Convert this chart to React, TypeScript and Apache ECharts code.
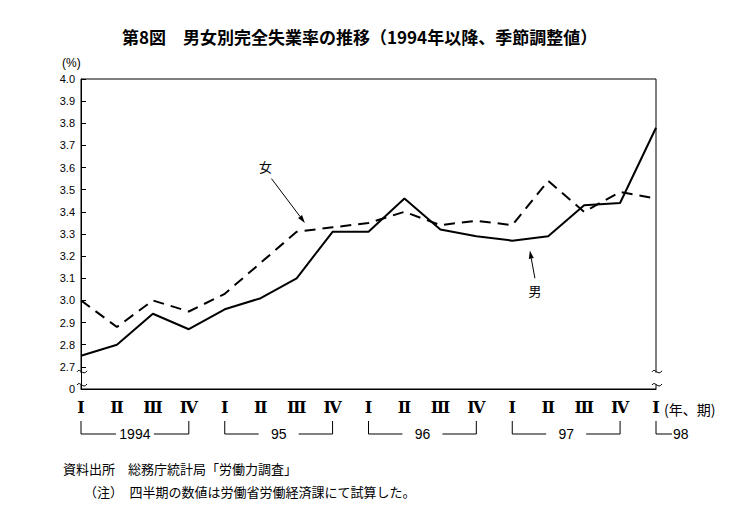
import React, { useEffect, useRef } from "react";
import * as echarts from "echarts";

const quarters = ["Ⅰ", "Ⅱ", "Ⅲ", "Ⅳ", "Ⅰ", "Ⅱ", "Ⅲ", "Ⅳ", "Ⅰ", "Ⅱ", "Ⅲ", "Ⅳ", "Ⅰ", "Ⅱ", "Ⅲ", "Ⅳ", "Ⅰ"];
const yearLabels = ["1994", "95", "96", "97", "98"];
const yearFrom = [0, 4, 8, 12, 16];
const yearTo = [3, 7, 11, 15, 16];
const male = [2.75, 2.8, 2.94, 2.87, 2.96, 3.01, 3.1, 3.31, 3.31, 3.46, 3.32, 3.29, 3.27, 3.29, 3.43, 3.44, 3.78];
const female = [3.0, 2.88, 3.0, 2.95, 3.03, 3.17, 3.31, 3.33, 3.35, 3.4, 3.34, 3.36, 3.34, 3.54, 3.4, 3.49, 3.46];
const yMin = 2.6;
const yMax = 4.0;
const yStep = 0.1;

const TITLE = "第8図　男女別完全失業率の推移（1994年以降、季節調整値）";
const NOTE1 = "資料出所　総務庁統計局「労働力調査」";
const NOTE2 = "（注）　四半期の数値は労働省労働経済課にて試算した。";
const JP = "'Noto Sans CJK JP', sans-serif";

export default function App() {
  const ref = useRef<HTMLDivElement>(null);
  useEffect(() => {
    if (!ref.current) return;
    const chart = echarts.init(ref.current, null, { renderer: "svg" });
    chart.setOption({
      animation: false,
      backgroundColor: "#fff",
      grid: { left: 81, right: 90, top: 79, bottom: 143, show: true, borderColor: "#000", borderWidth: 1 },
      xAxis: {
        type: "category",
        data: quarters,
        boundaryGap: false,
        axisLine: { show: true, lineStyle: { color: "#000", width: 1 } },
        axisTick: { show: false },
        axisLabel: { interval: 0, color: "#000", fontSize: 16, fontWeight: "bold", fontFamily: "'DejaVu Serif', serif", margin: 10 },
        splitLine: { show: false },
      },
      yAxis: {
        type: "value",
        min: yMin,
        max: yMax,
        interval: yStep,
        axisLine: { show: true, lineStyle: { color: "#000", width: 1 } },
        axisTick: { show: true, inside: true, length: 5, lineStyle: { color: "#000" } },
        axisLabel: {
          color: "#000",
          fontSize: 11,
          fontFamily: "'Liberation Sans', sans-serif",
          margin: 6,
          formatter: (v: number) => (Math.abs(v - yMin) < 1e-6 ? "0" : v.toFixed(1)),
        },
        splitLine: { show: false },
      },
      series: [
        { name: "男", type: "line", data: male, symbol: "none", lineStyle: { color: "#000", width: 2 } },
        { name: "女", type: "line", data: female, symbol: "none", lineStyle: { color: "#000", width: 2, type: [11, 7] } },
      ],
    });

    const px = (i: number, v: number) => {
      const a = chart.convertToPixel({ gridIndex: 0 }, [0, v]) as number[];
      const b = chart.convertToPixel({ gridIndex: 0 }, [quarters.length - 1, v]) as number[];
      return [a[0] + ((b[0] - a[0]) * i) / (quarters.length - 1), a[1]];
    };

    const els: any[] = [];
    const lineStyle = { stroke: "#000", lineWidth: 1 };
    els.push({ type: "text", left: 122, top: 28, style: { text: TITLE, font: `bold 17px ${JP}`, fill: "#000" } });
    els.push({ type: "text", left: 62, top: 57, style: { text: "(%)", font: "12px 'Liberation Sans', sans-serif", fill: "#000" } });
    els.push({ type: "text", left: 63, top: 462, style: { text: NOTE1, font: `13px ${JP}`, fill: "#000" } });
    els.push({ type: "text", left: 84, top: 485, style: { text: NOTE2, font: `13px ${JP}`, fill: "#000" } });

    const base = px(quarters.length - 1, yMin);
    els.push({ type: "text", x: base[0] + 8, y: base[1] + 20, style: { text: "(年、期)", font: `14px ${JP}`, fill: "#000", textVerticalAlign: "middle" } });

    const yTop = base[1] + 32;
    const yMid = base[1] + 45;
    for (let k = 0; k < yearLabels.length; k++) {
      const xl = px(yearFrom[k], yMin)[0];
      const xr = px(yearTo[k], yMin)[0];
      const font = "14px 'Liberation Sans', sans-serif";
      if (yearFrom[k] === yearTo[k]) {
        els.push({ type: "line", shape: { x1: xl, y1: yTop, x2: xl, y2: yMid }, style: lineStyle });
        els.push({ type: "line", shape: { x1: xl, y1: yMid, x2: xl + 16, y2: yMid }, style: lineStyle });
        els.push({ type: "text", x: xl + 17, y: yMid, style: { text: yearLabels[k], font, fill: "#000", textVerticalAlign: "middle" } });
      } else {
        const cx = (xl + xr) / 2;
        const half = yearLabels[k].length * 4 + (yearLabels[k].length === 4 ? 3 : 12);
        els.push({ type: "line", shape: { x1: xl, y1: yTop, x2: xl, y2: yMid }, style: lineStyle });
        els.push({ type: "line", shape: { x1: xr, y1: yTop, x2: xr, y2: yMid }, style: lineStyle });
        els.push({ type: "line", shape: { x1: xl, y1: yMid, x2: cx - half, y2: yMid }, style: lineStyle });
        els.push({ type: "line", shape: { x1: cx + half, y1: yMid, x2: xr, y2: yMid }, style: lineStyle });
        els.push({ type: "text", x: cx, y: yMid, style: { text: yearLabels[k], font, fill: "#000", textAlign: "center", textVerticalAlign: "middle" } });
      }
    }

    const yb1 = px(0, 2.7)[1] + 5;
    const yb2 = px(0, yMin)[1] - 4;
    for (const xa of [px(0, yMin)[0], px(quarters.length - 1, yMin)[0]]) {
      els.push({ type: "rect", shape: { x: xa - 2, y: yb1 + 1, width: 4, height: yb2 - yb1 - 2 }, style: { fill: "#fff" } });
      for (const yy of [yb1, yb2]) {
        els.push({
          type: "bezierCurve",
          shape: { x1: xa - 4, y1: yy, cpx1: xa - 1, cpy1: yy - 5, cpx2: xa + 2, cpy2: yy + 5, x2: xa + 6, y2: yy - 1 },
          style: { stroke: "#000", lineWidth: 1, fill: "none" },
        });
      }
    }

    const arrow = (from: number[], to: number[]) => {
      const p0 = px(from[0], from[1]);
      const p1 = px(to[0], to[1]);
      const dx = p1[0] - p0[0];
      const dy = p1[1] - p0[1];
      const len = Math.sqrt(dx * dx + dy * dy);
      const ux = dx / len;
      const uy = dy / len;
      const hl = 8;
      const hw = 2.5;
      const bx = p1[0] - ux * hl;
      const by = p1[1] - uy * hl;
      els.push({ type: "line", shape: { x1: p0[0], y1: p0[1], x2: bx, y2: by }, style: lineStyle });
      els.push({
        type: "polygon",
        shape: { points: [[p1[0], p1[1]], [bx - uy * hw, by + ux * hw], [bx + uy * hw, by - ux * hw]] },
        style: { fill: "#000" },
      });
      return p0;
    };
    const f0 = arrow([5.3, 3.55], [6.23, 3.35]);
    els.push({ type: "text", x: f0[0] - 6, y: f0[1] - 12, style: { text: "女", font: `13px ${JP}`, fill: "#000", textAlign: "center", textVerticalAlign: "middle" } });
    const m0 = arrow([12.63, 3.1], [12.49, 3.225]);
    els.push({ type: "text", x: m0[0], y: m0[1] + 12, style: { text: "男", font: `13px ${JP}`, fill: "#000", textAlign: "center", textVerticalAlign: "middle" } });

    chart.setOption({ graphic: { elements: els } });
    return () => chart.dispose();
  }, []);
  return <div ref={ref} style={{ width: 746, height: 532, position: "absolute", left: 0, top: 0 }} />;
}
